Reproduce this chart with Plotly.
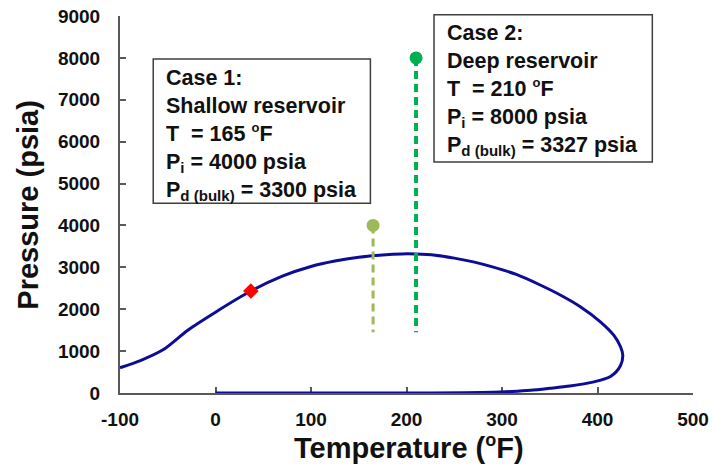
import plotly.graph_objects as go

# Phase envelope (temperature in degF, pressure in psia), traced from the dew-point
# branch on the left, around the cricondentherm, and back along the bubble-point branch.
envelope_T = [-100, -78, -55, -29, 0, 37, 70, 100, 125, 150, 175, 195, 210,
              230, 250, 270, 290, 315, 340, 361, 382, 403, 417, 424, 426.5,
              424, 414, 395, 371, 350, 330, 310, 290, 260, 200, 100, 0]
envelope_P = [604, 780, 1030, 1500, 1930, 2434, 2790, 3020, 3150, 3240, 3295, 3320, 3318,
              3290, 3220, 3130, 3010, 2830, 2578, 2340, 2060, 1700, 1380, 1110, 900,
              650, 400, 260, 167, 112, 65, 35, 15, 5, 1, 0, 0]

# Point marked on the dew-point curve
marker_T = [37]
marker_P = [2434]

# Reservoir cases: temperature, initial pressure, bulk dew-point pressure
case_names = ["Case 1:", "Case 2:"]
case_desc = ["Shallow reservoir", "Deep reservoir"]
case_T = [165, 210]
case_Pi = [4000, 8000]
case_Pd = [3300, 3327]
depletion_end_P = [1450, 1450]
case_colors = ["#9BBB59", "#00B050"]
case_widths = [3, 4]

x_ticks = [-100, 0, 100, 200, 300, 400, 500]
x_tick_text = ["-100", "0", "100", "200", "300", "400", "500"]
y_ticks = [0, 1000, 2000, 3000, 4000, 5000, 6000, 7000, 8000, 9000]

FONT = "Liberation Sans, Arial, sans-serif"
AXIS_COLOR = "#595959"
TEXT_COLOR = "#111111"

fig = go.Figure()

fig.add_trace(go.Scatter(
    x=envelope_T, y=envelope_P, mode="lines",
    line=dict(color="#0C0C96", width=3, shape="spline", smoothing=0.8),
    hoverinfo="skip", showlegend=False,
))

for i in range(len(case_T)):
    fig.add_trace(go.Scatter(
        x=[case_T[i], case_T[i]], y=[case_Pi[i], depletion_end_P[i]], mode="lines",
        line=dict(color=case_colors[i], width=case_widths[i], dash="8px,5px"),
        showlegend=False,
    ))
    fig.add_trace(go.Scatter(
        x=[case_T[i]], y=[case_Pi[i]], mode="markers",
        marker=dict(symbol="circle", size=13, color=case_colors[i]),
        showlegend=False,
    ))

fig.add_trace(go.Scatter(
    x=marker_T, y=marker_P, mode="markers",
    marker=dict(symbol="diamond", size=12, color="#FF0000"),
    showlegend=False,
))

# Text boxes describing the two cases
boxes = [(0.058, 0.886, 0.437, 0.503), (0.548, 1.003, 0.929, 0.613)]
for i, (x0, y1, x1, y0) in enumerate(boxes):
    fig.add_shape(type="rect", xref="paper", yref="paper", x0=x0, x1=x1, y0=y0, y1=y1,
                  line=dict(color="#3F3F3F", width=1.5), fillcolor="rgba(0,0,0,0)")
    text = (f"{case_names[i]}<br>{case_desc[i]}<br>"
            f"T&nbsp; = {case_T[i]} <sup><span style='font-size:13px'>o</span></sup>F<br>"
            f"P<sub>i</sub> = {case_Pi[i]} psia<br>"
            f"P<sub>d (bulk)</sub> = {case_Pd[i]} psia")
    fig.add_annotation(
        xref="paper", yref="paper", x=x0 + 0.019, y=y1 - 0.012,
        xanchor="left", yanchor="top", align="left", showarrow=False,
        text=text, font=dict(family=FONT, size=21.5, color=TEXT_COLOR, weight="bold"),
    )

# Axis titles
fig.add_annotation(
    xref="paper", yref="paper", x=0.505, y=-0.142, xanchor="center", yanchor="middle",
    showarrow=False, text="Temperature (<sup><span style='font-size:18px'>o</span></sup>F)",
    font=dict(family=FONT, size=29, color=TEXT_COLOR, weight="bold"),
)
fig.add_annotation(
    xref="paper", yref="paper", x=-0.162, y=0.5, xanchor="center", yanchor="middle",
    textangle=-90, showarrow=False, text="Pressure (psia)",
    font=dict(family=FONT, size=29, color=TEXT_COLOR, weight="bold"),
)

fig.update_xaxes(
    range=[-100, 500], tickvals=x_ticks, ticktext=x_tick_text, ticks="inside",
    ticklen=6, tickwidth=1.5, tickcolor=AXIS_COLOR, showline=True,
    linecolor=AXIS_COLOR, linewidth=2, showgrid=False, zeroline=False,
    ticklabelstandoff=8, layer="below traces",
    tickfont=dict(family=FONT, size=19, color=TEXT_COLOR, weight="bold"),
)
fig.update_yaxes(
    range=[0, 9000], tickvals=y_ticks, ticks="inside", ticklen=6, tickwidth=1.5,
    tickcolor=AXIS_COLOR, showline=True, linecolor=AXIS_COLOR, linewidth=2,
    showgrid=False, zeroline=False, ticklabelstandoff=14,
    tickfont=dict(family=FONT, size=19, color=TEXT_COLOR, weight="bold"),
)

fig.update_layout(
    width=712, height=472,
    margin=dict(l=120, r=19, t=16, b=79, autoexpand=False),
    paper_bgcolor="white", plot_bgcolor="white",
    showlegend=False,
)

fig.write_html("out.html")
